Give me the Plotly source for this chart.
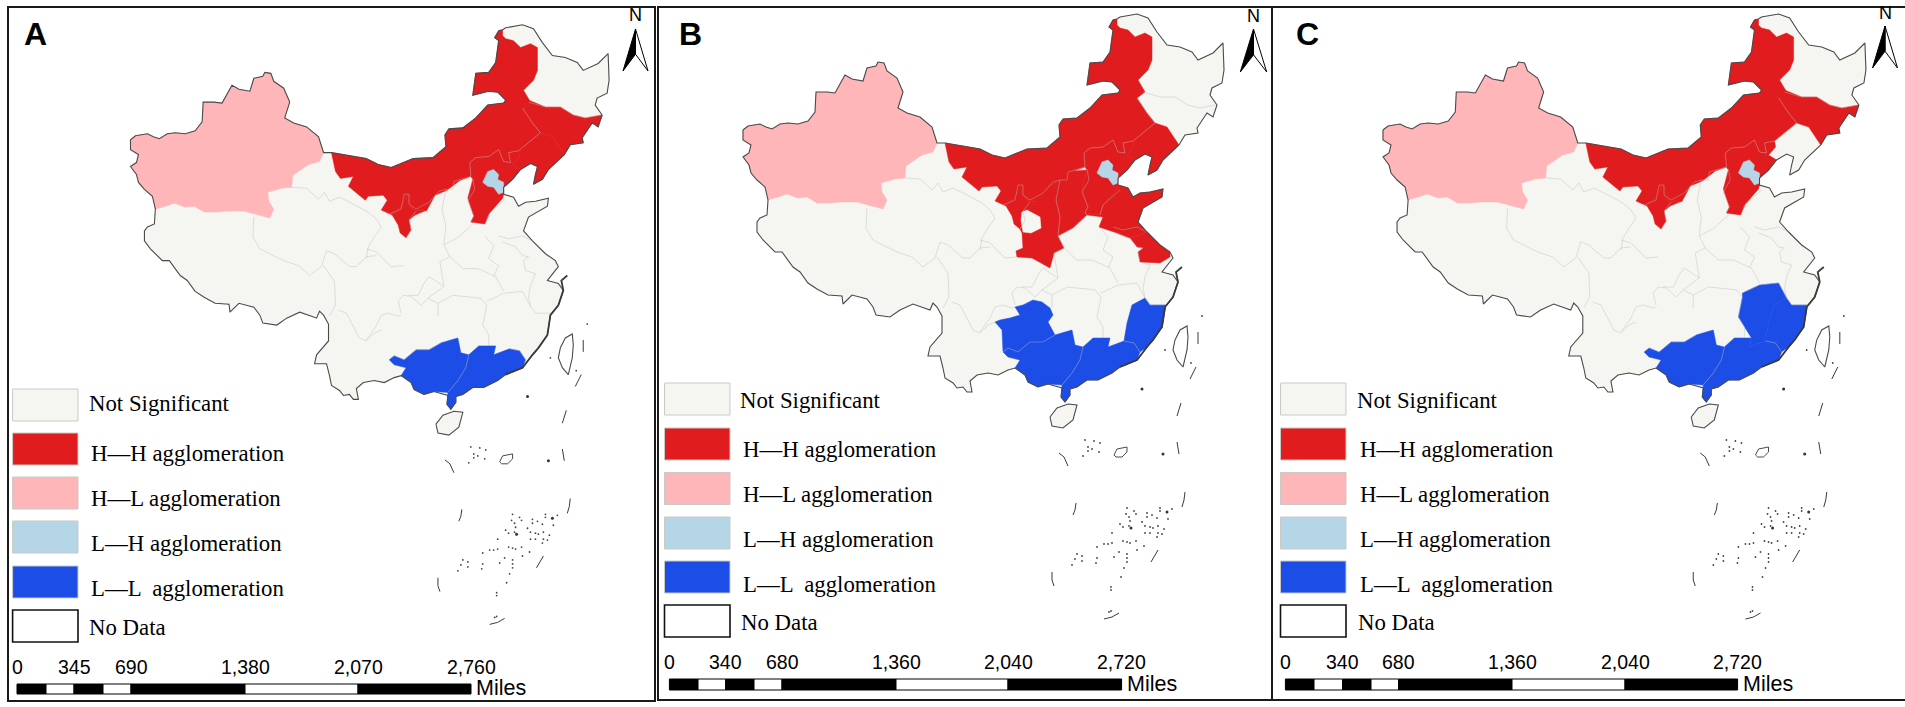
#!/usr/bin/env python3
# -*- coding: utf-8 -*-
"""
LISA cluster maps of China, three panels sharing one set of province outlines.
Outlines are read off panel B, so map units are roughly panel B pixels.
"""

import plotly.graph_objects as go

WIDTH, HEIGHT = 1905, 707

# ---- map outlines ----
MAINLAND = [
    (743, 130), (748, 126), (760, 124), (766, 127), (772, 129), (780, 124), (788, 123), (798, 124),
    (808, 121), (815, 112), (816, 92), (827, 92), (835, 93), (845, 75), (852, 79), (863, 81),
    (867, 68), (876, 66), (878, 62), (884, 63), (887, 71), (897, 78), (903, 92), (898, 108),
    (907, 113), (920, 117), (932, 127), (937, 143), (945, 143), (970, 147), (980, 149), (992, 155),
    (1005, 158), (1027, 149), (1047, 148), (1060, 137), (1059, 125), (1063, 119), (1077, 118),
    (1090, 108), (1102, 95), (1118, 93), (1120, 90), (1112, 82), (1103, 81), (1087, 85), (1090, 63),
    (1103, 62), (1110, 52), (1113, 30), (1109, 27), (1113, 20), (1117, 19), (1120, 17), (1137, 14),
    (1148, 18), (1157, 32), (1167, 45), (1180, 47), (1192, 52), (1198, 60), (1213, 53), (1223, 43),
    (1224, 70), (1222, 83), (1212, 88), (1210, 95), (1217, 105), (1213, 117), (1207, 113), (1197, 128),
    (1198, 133), (1185, 135), (1179, 145), (1163, 160), (1157, 170), (1148, 175), (1150, 165),
    (1152, 157), (1145, 154), (1135, 160), (1127, 170), (1118, 178), (1118, 185), (1128, 188),
    (1133, 197), (1140, 193), (1150, 192), (1163, 189), (1162, 197), (1153, 202), (1143, 208),
    (1138, 222), (1147, 232), (1160, 245), (1170, 252), (1173, 258), (1162, 272), (1173, 275),
    (1178, 282), (1173, 297), (1165, 307), (1162, 327), (1153, 340), (1147, 347), (1137, 360),
    (1120, 367), (1112, 373), (1098, 380), (1087, 380), (1077, 387), (1070, 389), (1070, 395),
    (1065, 402), (1061, 397), (1062, 388), (1048, 384), (1038, 387), (1028, 382), (1025, 375),
    (1015, 368), (1008, 370), (998, 375), (988, 373), (977, 375), (970, 381), (972, 392), (967, 392),
    (963, 387), (957, 388), (953, 383), (945, 378), (943, 368), (940, 356), (928, 356), (930, 347),
    (942, 333), (942, 316), (937, 307), (933, 303), (930, 310), (925, 308), (913, 304), (900, 310),
    (890, 317), (876, 315), (873, 307), (867, 299), (852, 295), (843, 304), (842, 296), (828, 295),
    (817, 289), (808, 283), (800, 272), (793, 267), (782, 252), (775, 252), (763, 240), (757, 232),
    (757, 222), (760, 218), (767, 215), (768, 200), (765, 187), (757, 180), (751, 173), (749, 165),
    (743, 157), (749, 153), (751, 145), (743, 140),
]
XINJIANG = [
    (743, 130), (748, 126), (760, 124), (766, 127), (772, 129), (780, 124), (788, 123), (798, 124),
    (808, 121), (815, 112), (816, 92), (827, 92), (835, 93), (845, 75), (852, 79), (863, 81),
    (867, 68), (876, 66), (878, 62), (884, 63), (887, 71), (897, 78), (903, 92), (898, 108),
    (907, 113), (920, 117), (932, 127), (937, 143), (933, 152), (922, 155), (906, 166), (905, 178),
    (895, 179), (881, 183), (882, 192), (887, 200), (883, 209), (872, 206), (857, 202), (840, 202),
    (830, 203), (817, 203), (807, 197), (798, 198), (787, 194), (778, 197), (768, 200), (765, 187),
    (757, 180), (751, 173), (749, 165), (743, 157), (749, 153), (751, 145), (743, 140),
]
INNER_MONGOLIA = [
    (945, 143), (970, 147), (980, 149), (992, 155), (1005, 158), (1027, 149), (1047, 148), (1060, 137),
    (1059, 125), (1063, 119), (1077, 118), (1090, 108), (1102, 95), (1118, 93), (1120, 90), (1112, 82),
    (1103, 81), (1087, 85), (1090, 63), (1103, 62), (1110, 52), (1113, 30), (1109, 27), (1113, 20),
    (1117, 19), (1117, 25), (1120, 28), (1128, 30), (1135, 37), (1145, 33), (1152, 37), (1152, 60),
    (1148, 70), (1138, 80), (1143, 88), (1145, 92), (1137, 98), (1147, 113), (1155, 123), (1133, 141),
    (1123, 143), (1125, 153), (1118, 152), (1113, 140), (1103, 147), (1090, 148), (1084, 153), (1085, 167),
    (1074, 171), (1061, 181), (1049, 186), (1041, 201), (1029, 202), (1023, 195), (1022, 185),
    (1015, 197), (1006, 206), (995, 201), (1001, 191), (997, 186), (982, 187), (979, 191), (962, 177),
    (967, 167), (954, 169), (949, 162),
]
NINGXIA = [
    (1006, 206), (1015, 197), (1022, 185), (1023, 195), (1029, 202), (1041, 201), (1029, 206), (1023, 211),
    (1025, 221), (1020, 229), (1014, 224), (1012, 216),
]
HEBEI = [
    (1082, 189), (1087, 170), (1085, 167), (1084, 153), (1090, 148), (1103, 147), (1113, 140), (1118, 152),
    (1125, 153), (1123, 143), (1133, 141), (1134, 147), (1127, 155), (1135, 160), (1127, 170),
    (1118, 178), (1118, 185), (1117, 189), (1104, 204), (1099, 215), (1085, 213), (1088, 207),
]
BEIJING_TIANJIN = [
    (1097, 173), (1102, 162), (1108, 160), (1113, 165), (1112, 170), (1118, 173), (1118, 183),
    (1113, 185), (1108, 178), (1102, 177),
]
LIAONING = [
    (1155, 123), (1167, 127), (1179, 145), (1163, 160), (1157, 170), (1148, 175), (1150, 165),
    (1152, 157), (1145, 154), (1135, 160), (1127, 155), (1134, 147), (1133, 141),
]
JILIN = [
    (1143, 90), (1160, 97), (1175, 97), (1188, 105), (1200, 108), (1215, 105), (1217, 105), (1213, 117),
    (1207, 113), (1197, 128), (1198, 133), (1185, 135), (1179, 145), (1167, 127), (1155, 123),
    (1147, 113), (1137, 98),
]
SHANXI = [
    (1060, 180), (1074, 171), (1087, 170), (1082, 189), (1088, 207), (1085, 213), (1087, 215),
    (1073, 228), (1058, 236), (1060, 217), (1056, 200),
]
SHAANXI = [
    (1041, 200), (1049, 186), (1061, 181), (1056, 200), (1060, 217), (1058, 236), (1064, 248), (1054, 253),
    (1050, 268), (1032, 258), (1017, 257), (1016, 251), (1023, 248), (1022, 233), (1020, 229), (1025, 221),
    (1023, 211), (1029, 204),
]
GANSU_HOLE = [
    (1022, 212), (1027, 210), (1040, 217), (1041, 228), (1031, 233), (1023, 232), (1021, 220),
]
SHANDONG = [
    (1085, 213), (1099, 215), (1104, 204), (1117, 189), (1118, 185), (1128, 188), (1133, 197), (1140, 193),
    (1150, 192), (1163, 189), (1162, 197), (1153, 202), (1143, 208), (1138, 222), (1147, 232), (1130, 238),
    (1117, 233), (1099, 227), (1103, 217), (1087, 215),
]
JIANGSU = [
    (1117, 233), (1130, 238), (1147, 232), (1160, 245), (1170, 252), (1170, 257), (1160, 263), (1140, 262),
    (1138, 252), (1143, 248), (1137, 247), (1130, 238),
]
GUANGXI = [
    (1003, 352), (1008, 348), (1018, 352), (1030, 342), (1043, 342), (1055, 335), (1065, 332), (1072, 330),
    (1075, 345), (1083, 347), (1080, 360), (1072, 373), (1062, 385), (1048, 384), (1038, 387), (1028, 382),
    (1025, 375), (1015, 368), (1020, 360), (1008, 357),
]
GUANGDONG = [
    (1083, 347), (1093, 338), (1110, 338), (1108, 347), (1124, 341), (1134, 343), (1140, 352), (1137, 360),
    (1120, 367), (1112, 373), (1098, 380), (1087, 380), (1077, 387), (1070, 389), (1070, 395), (1065, 402),
    (1061, 397), (1062, 385), (1072, 373), (1080, 360),
]
FUJIAN = [
    (1124, 341), (1127, 323), (1132, 305), (1145, 298), (1150, 305), (1166, 305), (1162, 327), (1153, 340),
    (1147, 347), (1140, 352), (1134, 343),
]
GUIZHOU = [
    (995, 322), (1000, 320), (1010, 318), (1020, 315), (1015, 307), (1023, 305), (1033, 300), (1042, 302),
    (1050, 308), (1053, 315), (1048, 322), (1055, 335), (1043, 342), (1030, 342), (1018, 352), (1008, 348),
    (1003, 352), (1002, 330),
]
JIANGXI = [
    (1101, 293), (1118, 285), (1137, 283), (1145, 298), (1132, 305), (1127, 323), (1124, 341), (1108, 347),
    (1110, 338), (1103, 327), (1097, 317), (1101, 297),
]
HAINAN = [(1050, 417), (1057, 408), (1068, 404), (1077, 405), (1073, 420), (1063, 428), (1052, 426)]
TAIWAN = [
    (1175, 340), (1180, 330), (1187, 326), (1188, 337), (1187, 350), (1183, 367), (1177, 360), (1173, 350),
]
ISLAND_OVAL = [(1114, 455), (1117, 449), (1127, 447), (1127, 452), (1122, 457), (1116, 457)]

# thin grey lines between provinces
PROVINCE_LINES = [
    [(867, 208), (866, 228), (873, 240), (897, 252), (912, 257), (923, 267), (935, 258), (937, 252),
     (940, 242), (948, 245), (963, 258), (970, 258), (980, 248), (990, 247)],
    [(937, 257), (948, 273), (949, 297), (943, 308)],
    [(952, 302), (960, 305), (973, 330), (980, 333), (988, 325), (995, 322)],
    [(980, 332), (990, 318), (995, 307), (1002, 305), (1012, 308), (1015, 307)],
    [(1012, 293), (1017, 287), (1025, 288), (1035, 297), (1042, 290), (1058, 278), (1043, 268),
     (1038, 275), (1032, 287), (1022, 287)],
    [(1012, 293), (1015, 305)],
    [(980, 240), (990, 243), (1005, 258), (1017, 257)],
    [(905, 178), (920, 179), (932, 190), (938, 183), (943, 192), (953, 188), (967, 195), (982, 203),
     (990, 210), (995, 218), (988, 228), (982, 238), (980, 250)],
    [(1052, 295), (1067, 287), (1087, 289), (1095, 290), (1101, 297), (1097, 317), (1103, 327), (1103, 338)],
    [(1052, 295), (1052, 308)],
    [(1042, 290), (1052, 295)],
    [(1101, 293), (1118, 285), (1137, 283), (1145, 298)],
    [(1064, 248), (1077, 260), (1092, 260), (1110, 268), (1118, 283)],
    [(1113, 257), (1108, 268)],
    [(1108, 237), (1103, 250), (1113, 257)],
    [(1117, 233), (1130, 238), (1137, 247), (1143, 248), (1138, 252), (1140, 262)],
    [(1113, 227), (1123, 230), (1137, 227), (1147, 232)],
    [(1099, 227), (1108, 237)],
    [(1140, 262), (1150, 265), (1145, 277), (1143, 288), (1145, 298)],
    [(1145, 298), (1150, 305), (1166, 305)],
    [(1003, 352), (1008, 348), (1018, 352), (1030, 342), (1043, 342), (1055, 335)],
    [(1083, 347), (1080, 360), (1072, 373), (1062, 385)],
    [(1124, 341), (1134, 343), (1140, 352)],
    [(1143, 92), (1160, 97), (1175, 97), (1188, 105), (1200, 108), (1215, 105)],
    [(1137, 98), (1147, 113), (1155, 123)],
    [(1155, 123), (1133, 141), (1123, 143), (1125, 153), (1118, 152), (1113, 140), (1103, 147), (1090, 148),
     (1084, 153), (1085, 167), (1068, 172), (1067, 180), (1060, 180), (1053, 182), (1043, 193), (1030, 200),
     (1023, 195), (1023, 185), (1018, 185), (1015, 200), (1003, 205)],
    [(1060, 180), (1056, 200), (1060, 217), (1058, 236), (1064, 248), (1054, 253), (1058, 278)],
    [(1058, 236), (1073, 228), (1087, 215), (1085, 213), (1088, 207), (1082, 192), (1089, 180), (1087, 169)],
    [(1100, 215), (1103, 205), (1120, 190)],
    [(1030, 202), (1023, 211), (1025, 221), (1020, 229)],
]

# dashes of the sea boundary and the dark broken coast
SEA_DASHES = [
    [(1181, 403), (1177, 416)], [(1177, 442), (1179, 454)], [(1059, 453), (1064, 457), (1068, 466)],
    [(1076, 503), (1075, 510), (1073, 515)], [(1185, 492), (1184, 500), (1182, 507)],
    [(1158, 550), (1151, 562)], [(1052, 572), (1052, 580), (1054, 586)],
    [(1104, 619), (1112, 617), (1119, 613)], [(1198, 332), (1198, 344)], [(1196, 367), (1190, 379)],
]
BROKEN_COAST = [
    (1182, 267), (1176, 272), (1178, 282), (1173, 297), (1165, 307), (1163, 318), (1162, 327),
    (1153, 340), (1147, 347), (1137, 360), (1120, 367),
]
ISLET_X = [1085, 1094, 1100, 1088, 1092, 1088, 1099, 1083, 1127, 1134, 1126, 1136, 1129, 1147, 1152, 1147,
           1157, 1142, 1160, 1172, 1160, 1168, 1120, 1130, 1123, 1129, 1145, 1150, 1158, 1153, 1164, 1145,
           1150, 1158, 1162, 1157, 1112, 1123, 1127, 1130, 1136, 1144, 1104, 1108, 1112, 1097, 1119, 1127,
           1137, 1114, 1127, 1097, 1082, 1077, 1075, 1082, 1096, 1072, 1127, 1124, 1121, 1111, 1111, 1109,
           1111, 1202, 1191, 1165]
ISLET_Y = [440, 441, 443, 447, 449, 451, 452, 456, 508, 511, 514, 514, 517, 513, 515, 517,
           518, 522, 508, 509, 511, 519, 524, 521, 527, 526, 526, 527, 526, 528, 529, 533,
           533, 533, 534, 537, 533, 541, 542, 543, 541, 546, 544, 544, 543, 547, 552, 554,
           550, 557, 558, 558, 556, 554, 559, 561, 563, 565, 562, 568, 577, 587, 590, 612,
           611, 316, 363, 350]
BIG_ISLET_X = [1163, 1167, 1131, 1142]
BIG_ISLET_Y = [454, 512, 528, 389]

# ---- cluster membership per panel ----
RED_A = ["INNER_MONGOLIA", "NINGXIA", "HEBEI", "LIAONING", "JILIN"]
RED_B = ["INNER_MONGOLIA", "NINGXIA", "HEBEI", "LIAONING", "SHANXI", "SHAANXI", "SHANDONG", "JIANGSU"]
RED_C = ["INNER_MONGOLIA", "NINGXIA", "HEBEI", "JILIN"]
BLUE_A = ["GUANGXI", "GUANGDONG"]
BLUE_B = ["GUANGXI", "GUANGDONG", "GUIZHOU", "FUJIAN"]
BLUE_C = ["GUANGXI", "GUANGDONG", "JIANGXI", "FUJIAN"]
GREY_ON_TOP_B = ["GANSU_HOLE"]

# ---- legend and scale bar text ----
LEGEND_LABELS = ["Not Significant", "H\u2014H agglomeration", "H\u2014L agglomeration",
                 "L\u2014H agglomeration", "L\u2014L \u00a0agglomeration", "No Data"]
SCALE_LABELS_A = ["0", "345", "690", "1,380", "2,070", "2,760"]
SCALE_LABELS_BC = ["0", "340", "680", "1,360", "2,040", "2,720"]

GREY = "#f5f6f1"
RED = "#e01c1e"
PINK = "#ffb6b9"
LIGHT_BLUE = "#b5d6e6"
BLUE = "#1c4de6"
OUTLINE = "#4a4a4a"
LEGEND_COLORS = [GREY, RED, PINK, LIGHT_BLUE, BLUE, "white"]

# pixel layout of each panel
PANELS = [
    dict(letter="A", frame=(8, 7, 655, 701), sx=0.995, x0=130.5, sy=0.991, y0=24.8,
         red=RED_A, blue=BLUE_A, top=[], letter_x=35,
         swatch_x=(12.6, 78), swatch_y=[389, 433, 477, 521, 566, 610], swatch_h=32,
         text_x=[87, 89, 89, 89, 89, 87], text_y=[403, 453, 498, 543, 588, 627],
         bar_x=[17, 46, 74, 103, 131, 245, 358, 471], bar_y=(684, 694), label_y=667, miles_y=688,
         labels=SCALE_LABELS_A, north=(635.5, 15, 29, 71, 12.5)),
    dict(letter="B", frame=(658, 7, 1272, 700), sx=1.0, x0=743, sy=1.0, y0=14,
         red=RED_B, blue=BLUE_B, top=GREY_ON_TOP_B, letter_x=690,
         swatch_x=(664.5, 730), swatch_y=[383, 428, 472.5, 517, 561, 605], swatch_h=32,
         text_x=[738, 741, 741, 741, 741, 739], text_y=[400, 449, 494, 539, 584, 622],
         bar_x=[669.4, 698, 725.7, 754, 782, 896, 1008, 1121.6], bar_y=(679, 690), label_y=662, miles_y=684,
         labels=SCALE_LABELS_BC, north=(1253.5, 16, 29, 72, 13.2)),
    dict(letter="C", frame=(1272, 7, 1907, 700), sx=1.004, x0=1383, sy=1.0, y0=14,
         red=RED_C, blue=BLUE_C, top=[], letter_x=1307,
         swatch_x=(1280.5, 1346), swatch_y=[383, 428, 472.5, 517, 561, 605], swatch_h=32,
         text_x=[1355, 1358, 1358, 1358, 1358, 1356], text_y=[400, 449, 494, 539, 584, 622],
         bar_x=[1285.4, 1314, 1342.5, 1371, 1398.5, 1512, 1625, 1737.6], bar_y=(679, 690), label_y=662, miles_y=684,
         labels=SCALE_LABELS_BC, north=(1885, 13, 26, 68, 12.5)),
]

fig = go.Figure()


def add_poly(points, xa, ya, fill, line, width):
    x = [p[0] for p in points] + [points[0][0]]
    y = [p[1] for p in points] + [points[0][1]]
    fig.add_trace(go.Scatter(x=x, y=y, xaxis=xa, yaxis=ya, mode="lines", fill="toself", fillcolor=fill,
                             line=dict(color=line, width=width), hoverinfo="skip", showlegend=False))


def add_line(points, xa, ya, color, width):
    fig.add_trace(go.Scatter(x=[p[0] for p in points], y=[p[1] for p in points], xaxis=xa, yaxis=ya,
                             mode="lines", line=dict(color=color, width=width), hoverinfo="skip",
                             showlegend=False))


def draw_map(panel, xa, ya):
    add_poly(MAINLAND, xa, ya, GREY, GREY, 0.5)
    add_poly(XINJIANG, xa, ya, PINK, PINK, 0.5)
    for name in panel["red"]:
        add_poly(globals()[name], xa, ya, RED, RED, 0.5)
    add_poly(BEIJING_TIANJIN, xa, ya, LIGHT_BLUE, LIGHT_BLUE, 0.5)
    for name in panel["blue"]:
        add_poly(globals()[name], xa, ya, BLUE, BLUE, 0.5)
    for name in panel["top"]:
        add_poly(globals()[name], xa, ya, GREY, GREY, 0.5)
    for seg in PROVINCE_LINES:
        add_line(seg, xa, ya, "rgba(185,185,185,0.6)", 0.7)
    add_line(MAINLAND + MAINLAND[:1], xa, ya, OUTLINE, 1.1)
    add_line(BROKEN_COAST, xa, ya, "#3a3a3a", 1.8)
    add_poly(HAINAN, xa, ya, GREY, OUTLINE, 1.1)
    add_poly(TAIWAN, xa, ya, "white", OUTLINE, 1.1)
    add_poly(ISLAND_OVAL, xa, ya, "white", OUTLINE, 1)
    for seg in SEA_DASHES:
        add_line(seg, xa, ya, "#3a3a3a", 1)
    fig.add_trace(go.Scatter(x=ISLET_X, y=ISLET_Y, xaxis=xa, yaxis=ya, mode="markers",
                             marker=dict(size=1.8, color="#444444"), hoverinfo="skip", showlegend=False))
    fig.add_trace(go.Scatter(x=BIG_ISLET_X, y=BIG_ISLET_Y, xaxis=xa, yaxis=ya, mode="markers",
                             marker=dict(size=3, color="#333333"), hoverinfo="skip", showlegend=False))


shapes = []
annotations = []
axes = {}


def rect(x0, y0, x1, y1, fill, line=None, width=0):
    shapes.append(dict(type="rect", xref="x4", yref="y4", x0=x0, y0=y0, x1=x1, y1=y1, fillcolor=fill,
                       line=dict(color=line, width=width) if line else dict(width=0)))


def text(x, y, s, size, family, anchor="center", bold=False):
    annotations.append(dict(xref="x4", yref="y4", x=x, y=y, text="<b>%s</b>" % s if bold else s, showarrow=False,
                            xanchor=anchor, yanchor="middle", font=dict(size=size, family=family, color="black")))


for i, panel in enumerate(PANELS):
    n = i + 1
    xa, ya = "x%d" % n, "y%d" % n
    left, top, right, bottom = panel["frame"]
    # axes span the frame, ranges line the shared outlines up with this panel
    axes["xaxis%d" % n] = dict(domain=[left / WIDTH, min(right / WIDTH, 1)], visible=False, fixedrange=True,
                               range=[743 + (left - panel["x0"]) / panel["sx"],
                                      743 + (min(right, WIDTH) - panel["x0"]) / panel["sx"]])
    axes["yaxis%d" % n] = dict(domain=[1 - bottom / HEIGHT, 1 - top / HEIGHT], visible=False, fixedrange=True,
                               range=[14 + (bottom - panel["y0"]) / panel["sy"],
                                      14 + (top - panel["y0"]) / panel["sy"]])
    draw_map(panel, xa, ya)

    shapes.append(dict(type="rect", xref="x4", yref="y4", x0=left, y0=top, x1=right, y1=bottom,
                       line=dict(color="#1a1a1a", width=2)))
    text(panel["letter_x"], 34, panel["letter"], 32, "Liberation Sans", bold=True)

    # legend
    sx0, sx1 = panel["swatch_x"]
    for j, label in enumerate(LEGEND_LABELS):
        sy0 = panel["swatch_y"][j]
        last = j == len(LEGEND_LABELS) - 1
        rect(sx0, sy0, sx1, sy0 + panel["swatch_h"], LEGEND_COLORS[j],
             "#111111" if last else "#c9c9c5", 1.6 if last else 1)
        text(panel["text_x"][j], panel["text_y"][j], label, 22.8, "Liberation Serif", anchor="left")

    # scale bar, alternating black and white blocks
    bar = panel["bar_x"]
    by0, by1 = panel["bar_y"]
    for j in range(len(bar) - 1):
        rect(bar[j], by0, bar[j + 1], by1, "black" if j % 2 == 0 else "white", "black", 1)
    label_pos = [bar[0], bar[2], bar[4], bar[5], bar[6], bar[7]]
    for pos, label in zip(label_pos, panel["labels"]):
        text(pos, panel["label_y"], label, 19.5, "Liberation Sans")
    text(bar[-1] + 3, panel["miles_y"], "Miles", 21.5, "Liberation Sans", anchor="left")

    # north arrow, black left half, white right half
    nx, ny, tip, base, half = panel["north"]
    notch = tip + (base - tip) * 0.6
    text(nx, ny, "N", 18, "Liberation Sans")
    shapes.append(dict(type="path", xref="x4", yref="y4", fillcolor="white", line=dict(color="black", width=1),
                       path="M %g %g L %g %g L %g %g Z" % (nx, tip, nx + half, base, nx, notch)))
    shapes.append(dict(type="path", xref="x4", yref="y4", fillcolor="black", line=dict(color="black", width=1),
                       path="M %g %g L %g %g L %g %g Z" % (nx, tip, nx - half, base, nx, notch)))

# one extra pair of axes in plain pixels for frames, legends and scale bars
axes["xaxis4"] = dict(domain=[0, 1], range=[0, WIDTH], visible=False, fixedrange=True)
axes["yaxis4"] = dict(domain=[0, 1], range=[HEIGHT, 0], visible=False, fixedrange=True)

fig.add_trace(go.Scatter(x=[0], y=[0], xaxis="x4", yaxis="y4", mode="markers", marker=dict(size=1, opacity=0),
                         hoverinfo="skip", showlegend=False))
fig.update_layout(width=WIDTH, height=HEIGHT, margin=dict(l=0, r=0, t=0, b=0), paper_bgcolor="white",
                  plot_bgcolor="rgba(0,0,0,0)", showlegend=False, shapes=shapes, annotations=annotations, **axes)

fig.write_html("out.html", config=dict(displayModeBar=False),
               post_script="document.body.style.margin='0';document.documentElement.style.overflow='hidden';")
